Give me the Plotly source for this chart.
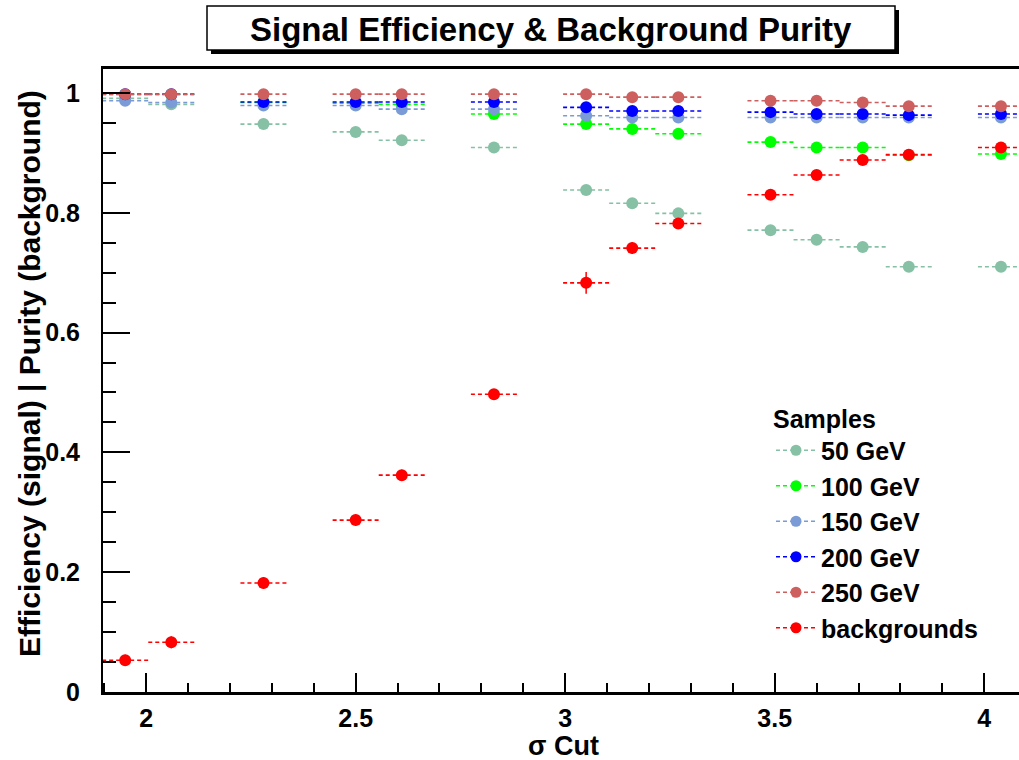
import plotly.graph_objects as go

# ---------------- data ----------------
sigma_cut = [1.95, 2.06, 2.28, 2.50, 2.61, 2.83, 3.05, 3.16, 3.27, 3.49, 3.60, 3.71, 3.82, 4.04]
bin_half_width = 0.055

eff_50 = [0.991, 0.981, 0.948, 0.935, 0.921, 0.909, 0.838, 0.816, 0.799, 0.771, 0.755, 0.743, 0.710, 0.710]
eff_100 = [0.997, 0.997, 0.984, 0.983, 0.981, 0.965, 0.948, 0.940, 0.932, 0.918, 0.909, 0.909, 0.896, 0.898]
eff_150 = [0.987, 0.984, 0.979, 0.979, 0.973, 0.973, 0.962, 0.959, 0.959, 0.959, 0.959, 0.959, 0.959, 0.959]
eff_200 = [0.998, 0.998, 0.985, 0.985, 0.985, 0.985, 0.976, 0.970, 0.970, 0.968, 0.965, 0.965, 0.963, 0.965]
eff_250 = [0.998, 0.998, 0.998, 0.998, 0.998, 0.998, 0.998, 0.993, 0.993, 0.987, 0.987, 0.984, 0.978, 0.978]
purity_bkg = [0.053, 0.083, 0.182, 0.287, 0.362, 0.497, 0.683, 0.741, 0.782, 0.830, 0.863, 0.888, 0.897, 0.909]

err_sig = [0.004] * 14
err_bkg = [0.009, 0.010, 0.010, 0.009, 0.009, 0.009, 0.018, 0.010, 0.009, 0.008, 0.007, 0.006, 0.006, 0.006]

series_names = ["50 GeV", "100 GeV", "150 GeV", "200 GeV", "250 GeV", "backgrounds"]
series_values = [eff_50, eff_100, eff_150, eff_200, eff_250, purity_bkg]
series_errors = [err_sig, err_sig, err_sig, err_sig, err_sig, err_bkg]
series_colors = ["#86c1a5", "#00ff00", "#7b9bd6", "#0000ff", "#cd5f5f", "#ff0000"]

x_ticks = [2, 2.5, 3, 3.5, 4]
y_ticks = [0, 0.2, 0.4, 0.6, 0.8, 1]

# ---------------- layout constants ----------------
W, H = 1019, 760
ML, MR, MT, MB = 103, 0, 69, 68
PW, PH = W - ML - MR, H - MT - MB

def px_to_paper(x, y):
    return (x - ML) / PW, (H - MB - y) / PH

FONT = "Liberation Sans, Arial, Helvetica, sans-serif"

fig = go.Figure()

for name, vals, errs, col in zip(series_names, series_values, series_errors, series_colors):
    # dashed horizontal bin-width bars
    hx, hy = [], []
    for xv, yv in zip(sigma_cut, vals):
        hx += [xv - bin_half_width, xv + bin_half_width, None]
        hy += [yv, yv, None]
    fig.add_trace(go.Scatter(
        x=hx, y=hy, mode="lines",
        line=dict(color=col, width=1.6, dash="4px,3px"),
        showlegend=False, hoverinfo="skip", legendgroup=name,
    ))
    # markers with vertical errors
    fig.add_trace(go.Scatter(
        x=sigma_cut, y=vals, mode="markers",
        marker=dict(color=col, size=12, symbol="circle", line=dict(width=0)),
        error_y=dict(type="data", array=errs, color=col, thickness=1.5, width=0),
        showlegend=False, legendgroup=name, name=name,
    ))
    # legend entry
    fig.add_trace(go.Scatter(
        x=[None], y=[None], mode="lines+markers", name=name,
        line=dict(color=col, width=1.6, dash="4px,3px"),
        marker=dict(color=col, size=11),
        legendgroup=name, showlegend=True,
    ))

# title box with shadow
bx0, by0, bx1, by1 = 207, 6, 895, 50
s = 4
p0 = px_to_paper(bx0 + s, by1 + s)
p1 = px_to_paper(bx1 + s, by0 + s)
fig.add_shape(type="rect", xref="paper", yref="paper",
              x0=p0[0], y0=p0[1], x1=p1[0], y1=p1[1],
              fillcolor="black", line=dict(width=0), layer="above")
q0 = px_to_paper(bx0, by1)
q1 = px_to_paper(bx1, by0)
fig.add_shape(type="rect", xref="paper", yref="paper",
              x0=q0[0], y0=q0[1], x1=q1[0], y1=q1[1],
              fillcolor="white", line=dict(color="black", width=1.5), layer="above")
tc = px_to_paper((bx0 + bx1) / 2, (by0 + by1) / 2 + 1)
fig.add_annotation(text="<b>Signal Efficiency &amp; Background Purity</b>",
                   xref="paper", yref="paper", x=tc[0], y=tc[1],
                   xanchor="center", yanchor="middle", showarrow=False,
                   font=dict(family=FONT, size=33, color="black"))

# y-axis title (ROOT aligns it towards the top of the axis)
yt = px_to_paper(29, 374)
fig.add_annotation(text="<b>Efficiency (signal) | Purity (background)</b>",
                   xref="paper", yref="paper", x=yt[0], y=yt[1],
                   xanchor="center", yanchor="middle", textangle=-90, showarrow=False,
                   font=dict(family=FONT, size=30, color="black"))

# x-axis title
xt = px_to_paper(563, 746)
fig.add_annotation(text="<b>σ Cut</b>",
                   xref="paper", yref="paper", x=xt[0], y=xt[1],
                   xanchor="center", yanchor="middle", showarrow=False,
                   font=dict(family=FONT, size=27, color="black"))

lg = px_to_paper(771, 395)

fig.update_layout(
    width=W, height=H,
    margin=dict(l=ML, r=MR, t=MT, b=MB, pad=0),
    paper_bgcolor="white", plot_bgcolor="white",
    font=dict(family=FONT, color="black"),
    xaxis=dict(
        range=[1.897, 4.083], tickvals=x_ticks, ticktext=[str(v) for v in x_ticks],
        ticks="inside", ticklen=19, tickwidth=1.5, tickcolor="black",
        minor=dict(dtick=0.1, tick0=0, ticks="inside", ticklen=9, tickwidth=1.5, tickcolor="black"),
        showgrid=False, zeroline=False,
        showline=True, linecolor="black", linewidth=3, mirror=True,
        tickfont=dict(family=FONT, size=25, weight="bold"),
        ticklabelstandoff=2,
    ),
    yaxis=dict(
        range=[0, 1.04], tickvals=y_ticks, ticktext=["0", "0.2", "0.4", "0.6", "0.8", "1"],
        ticks="inside", ticklen=27, tickwidth=1.5, tickcolor="black",
        minor=dict(dtick=0.05, tick0=0, ticks="inside", ticklen=13, tickwidth=1.5, tickcolor="black"),
        showgrid=False, zeroline=False,
        showline=True, linecolor="black", linewidth=2, mirror=False,
        tickfont=dict(family=FONT, size=25, weight="bold"),
        ticklabelstandoff=16,
    ),
    legend=dict(
        x=lg[0], y=lg[1], xanchor="left", yanchor="top",
        bgcolor="rgba(255,255,255,0)", borderwidth=0,
        font=dict(family=FONT, size=25, weight="bold", color="black"),
        title=dict(text="<b>Samples</b>", font=dict(family=FONT, size=25, color="black"), side="top"),
        tracegroupgap=0, itemwidth=40,
    ),
    showlegend=True,
)

fig.write_html("out.html", config={"displayModeBar": False},
               post_script="document.body.style.margin='0';")
